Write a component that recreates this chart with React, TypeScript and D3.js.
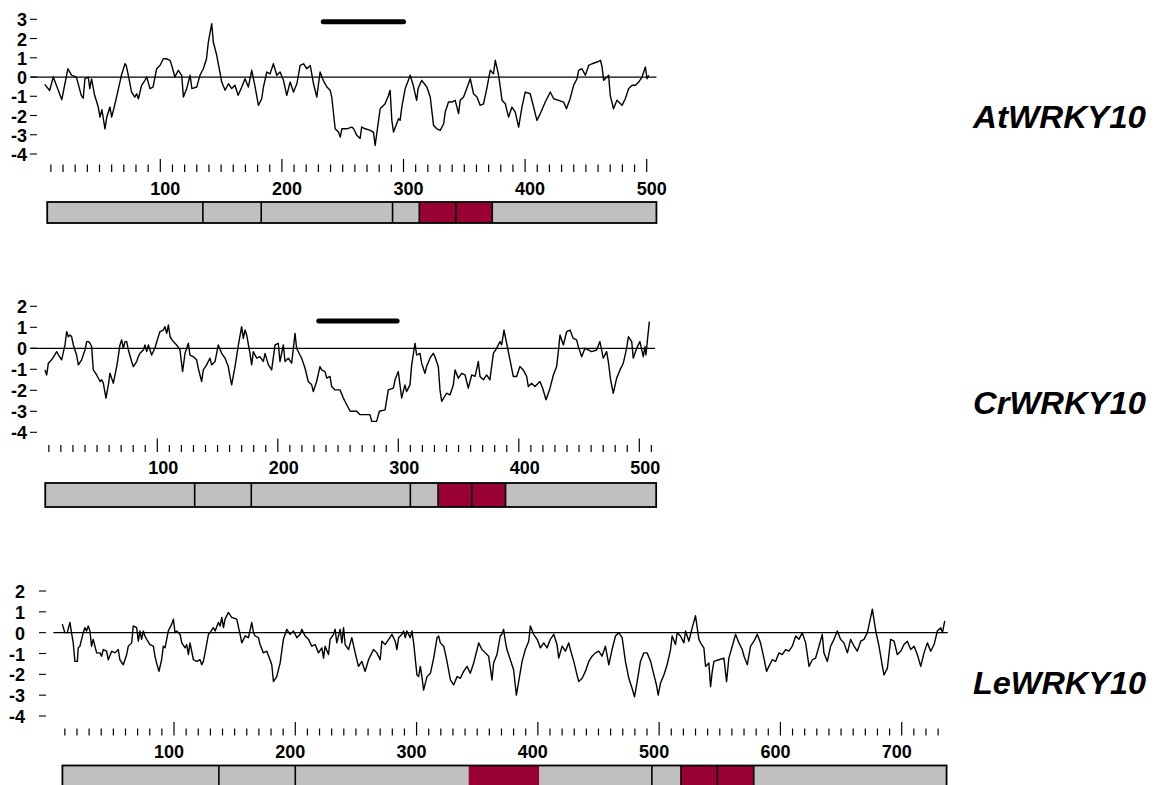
import React from "react";
import * as d3 from "d3";

type Pt = [number, number];

// hydropathy profiles: [residue, score]
const atHydro: Pt[] = [
  [5,-0.38],[9,-0.7],[12,0],[19,-1.18],[24,0.43],[27,0.1],[31,0],[35,-0.95],[36.6,-1.1],[38,-0.1],[40.8,0],[42,-0.6],[43.5,-0.1],[46,-0.95],[49,-1.56],[50.4,-2.08],[52,-1.7],[54.5,-2.69],[56,-2.08],[58.6,-1.56],[60,-2.08],[62.7,-1.4],[64,-1.04],[66.8,-0.26],[68,0.09],[71,0.69],[72,0.6],[73.7,0.09],[76.4,-0.78],[79,-1.04],[80.5,-0.87],[82,-1.13],[84.6,-0.43],[87.4,-0.17],[88.8,0],[90,-0.26],[91.5,-0.6],[94,-0.52],[97,0.43],[99.7,0.6],[102.5,0.95],[105,0.95],[108,0.87],[109.4,0.6],[112,0],[114.8,0.35],[117.6,0.09],[119,-1.04],[121.7,-0.6],[124.5,0.09],[126,-0.6],[130,-0.52],[132.6,0.09],[135.4,0.43],[138,0.95],[139.5,1.82],[142.3,2.77],[143.6,1.82],[146.4,1.13],[149,0.26],[150.5,-0.26],[153.3,-0.69],[156,-0.35],[158.7,-0.6],[161.4,-0.43],[164,-0.95],[167,-0.52],[169.7,-0.09],[172.4,-0.52],[175.2,0.35],[178,-0.52],[180.7,-1.47],[183.4,-1.13],[184.8,-0.52],[187.6,0.26],[190.3,0.17],[193,0.69],[195.8,0.09],[198.5,0.26],[201.3,-0.17],[204,-0.95],[206.8,-0.26],[209.5,-0.78],[212.3,-0.35],[215,0.6],[217.8,0.69],[220.5,0.43],[223.3,0.6],[226,-0.35],[228.7,-1.04],[231.4,0.26],[234,-0.17],[237,-0.52],[239.7,-0.69],[241,-1.04],[243.8,-2.69],[246.5,-2.86],[248,-3.12],[249.3,-2.69],[253.4,-2.69],[257.5,-2.6],[259,-2.69],[261.6,-3.03],[264.3,-3.2],[265.6,-2.6],[268.5,-2.69],[272.6,-2.77],[275.3,-2.86],[276.7,-3.55],[279.5,-2.25],[280.8,-1.65],[284.9,-1.39],[287.7,-0.95],[289,-0.69],[290.4,-2.25],[291.8,-2.86],[295.9,-2.17],[297.2,-2.25],[298.6,-1.56],[301.4,-0.6],[304,-0.17],[305.5,0.09],[308,-0.43],[310.8,-1.21],[312,-0.6],[315,-0.17],[319.2,-0.52],[322,-1.04],[324.7,-2.51],[327.4,-2.69],[330.2,-2.77],[333,-2.43],[334.3,-1.82],[337,-1.3],[339.8,-1.3],[342.5,-1.21],[345.3,-1.9],[346.6,-1.21],[349.4,-1.04],[352,-0.6],[354.9,-0.09],[357.6,-0.87],[360.4,-1.04],[363,-1.47],[365.8,-1.39],[368.5,-0.6],[371.3,0.35],[374,0.17],[375.5,0.87],[378,0.17],[379.6,-0.52],[381,-1.21],[383.7,-1.39],[386.4,-2.08],[389.2,-1.56],[391.9,-1.82],[394.7,-2.6],[397.4,-1.56],[400.1,-0.78],[404.2,-0.87],[407,-1.56],[409.7,-2.25],[412.5,-1.9],[416.6,-1.3],[420.7,-0.78],[423.5,-1.13],[427.6,-1.21],[431.7,-1.3],[434,-1.65],[437,-1.13],[439.9,-0.43],[442.7,-0.09],[444,0.35],[446.8,0.43],[449.5,0.09],[452.3,0.6],[455,0.69],[459.2,0.78],[462,0.87],[463.3,0.52],[464.6,-0.17],[467.4,0],[468.7,0.09],[470,-0.95],[472.7,-1.65],[475.5,-1.21],[479.7,-1.47],[482.4,-1.13],[485.2,-0.6],[488,-0.43],[490.7,-0.43],[493.4,-0.26],[496.2,0],[498.9,0.52],[500.3,-0.09],[501.7,0.09],
];

const crHydro: Pt[] = [
  [6.8,-1.03],[8.2,-1.27],[9.6,-0.71],[12.3,-0.55],[14,-0.4],[16.5,-0.16],[18,-0.32],[20.6,-0.55],[23.4,0.16],[24.8,0.79],[26.2,0.55],[27.6,0.63],[28.9,0.55],[30.3,0.16],[33,-0.32],[34.5,-0.79],[37.2,-0.55],[40,-0.08],[41.4,0.32],[42.8,0.32],[44.2,0.24],[45.5,0.08],[46.9,-1.03],[49.7,-1.27],[52.5,-1.58],[53.8,-1.5],[55.2,-1.66],[57.4,-2.37],[59.4,-1.74],[60.7,-1.19],[62.1,-1.42],[63.5,-1.66],[66.3,-0.87],[67.6,-0.4],[69,0.16],[70.4,0.4],[71.8,0],[73.2,0.32],[74.6,0.32],[76,-0.08],[78.7,-0.63],[80.1,-0.87],[82.9,-0.63],[84.2,-0.4],[85.6,-0.24],[88.4,-0.08],[89.8,0.16],[91.2,-0.16],[92.6,0.16],[95.3,-0.32],[98,0],[100.8,0.55],[102.2,0.79],[105,0.87],[106.4,1.03],[107.8,0.71],[109.2,1.11],[110.6,0.55],[113.3,0.32],[116,0.16],[118.8,-0.08],[121,-1.11],[123,-0.24],[125.8,0.24],[127.1,-0.32],[129.9,-0.4],[132.6,-0.55],[134,-0.95],[136.8,-1.58],[138.2,-1.03],[140.9,-0.79],[143.7,-0.47],[145.1,-0.79],[147.9,-0.63],[150.6,0.16],[153.4,-0.24],[156.2,-0.47],[158.9,-0.87],[160.3,-1.34],[161.7,-1.74],[164.5,-0.87],[167.3,0.16],[170,1.03],[171.4,0.47],[172.8,0.87],[174.2,0.63],[176.9,-0.24],[178.3,-0.79],[179.7,-0.16],[182.5,-0.47],[185.2,-0.4],[188,-0.63],[189.4,-0.24],[192.2,-0.79],[194.9,-1.03],[197.7,0.16],[200.4,0.24],[201.8,-0.63],[204.6,0.16],[206,-0.63],[208.7,-0.47],[211.5,-0.71],[214.3,0.71],[215.6,0],[218.4,-0.32],[219.8,-0.47],[222.6,-0.95],[225.3,-1.58],[228.1,-1.74],[229.5,-2.06],[232.2,-1.58],[235,-0.87],[236.4,-1.03],[239.2,-1.11],[240.6,-1.42],[243.3,-1.34],[244.7,-1.82],[247.5,-1.98],[251.6,-1.98],[254.4,-2.37],[257.2,-2.69],[260,-3.0],[265.5,-3.0],[268.2,-3.16],[276.5,-3.16],[277.9,-3.48],[282,-3.48],[284.3,-3.0],[289,-2.93],[291.7,-1.98],[295.9,-1.9],[297.3,-1.5],[300,-1.11],[301.4,-1.74],[302.8,-2.37],[305.5,-1.74],[306.9,-2.06],[309.7,-1.74],[311.1,-0.79],[313.9,0.24],[315.2,-0.32],[318,-0.24],[319.4,-0.71],[322.1,-1.19],[323.5,-0.87],[326.3,-0.47],[329,-0.24],[330.4,-0.4],[333.2,-0.87],[334.6,-1.98],[336,-2.53],[340.1,-2.14],[342.9,-2.22],[345.7,-1.74],[347.1,-1.03],[349.8,-1.42],[352.6,-1.19],[355.4,-1.27],[358.1,-1.9],[360.9,-1.27],[363.7,-1.34],[366.4,-0.63],[367.8,-1.34],[370.6,-1.5],[373.3,-1.27],[376,-1.5],[378.9,-0.24],[381.6,0],[384.4,0.32],[385.8,0.16],[387.7,0.87],[389.9,0.24],[392.7,-0.55],[395.4,-1.34],[398.2,-1.34],[400.9,-0.87],[403.7,-1.03],[406.5,-1.34],[407.9,-1.82],[410.6,-1.66],[413.4,-1.82],[417.6,-1.58],[419.8,-1.9],[422.6,-2.45],[425.9,-1.9],[428.7,-1.27],[431.4,-0.87],[432.8,-0.16],[434.2,0.63],[437,0.16],[439.7,0.79],[442.5,0.87],[445.2,0.47],[448,0.4],[449.4,0.08],[452.2,-0.4],[454.9,0],[457.7,-0.08],[460.4,-0.16],[464.6,-0.08],[467.3,0.32],[470.1,-0.47],[472.9,-0.16],[474.3,-0.63],[476.2,-1.5],[478.4,-2.14],[481.2,-1.42],[484,-1.03],[486.7,-0.71],[489.5,0],[490.9,0.55],[493.7,0.32],[495,-0.47],[497.8,0],[500.5,0.32],[503.3,-0.4],[504.7,0.08],[505.5,-0.32],[508.3,1.27],
];

const leHydro: Pt[] = [
  [7.9,0.41],[10,0],[12,0],[14.2,0.49],[15.5,0],[16.9,-0.49],[18.3,-1.38],[20.3,-1.38],[21,-0.73],[22.4,-0.65],[23.8,-0.32],[25.2,0],[26.5,0.24],[27.9,0.08],[29.3,0.32],[30.7,0.08],[32,-0.65],[33.4,-0.32],[36.2,-0.97],[39,-0.97],[40.3,-1.13],[41.7,-0.81],[44.4,-0.89],[45.8,-1.3],[48.6,-0.89],[51.3,-0.97],[54,-0.81],[55.4,-1.3],[58.2,-1.54],[61,-1.05],[62.3,-0.65],[65.1,-0.49],[66.4,0.32],[69.2,0.24],[70.6,-0.41],[71.9,0.08],[73.3,-0.32],[74.7,0.08],[76,-0.16],[77.5,-0.32],[80.2,-0.57],[83,-0.65],[84.3,-1.13],[85.7,-1.46],[87.6,-1.86],[89.8,-1.3],[91.2,-0.65],[92.6,-0.73],[95.3,0.08],[98.1,0.41],[99.5,0.65],[100.8,0],[102.2,0.08],[105,-0.08],[106.4,-0.49],[109.1,-0.73],[110.5,-0.57],[111.9,-1.05],[113.2,-0.49],[116,-1.3],[118.7,-1.38],[121.5,-1.3],[122.9,-1.54],[124.2,-1.38],[125.6,-0.97],[128.4,-0.08],[129.7,0],[132.5,0.24],[133.9,0.08],[136.6,0.49],[138,0.32],[139.4,0.73],[140.8,0.24],[142.1,0.65],[144.8,0.97],[147.6,0.73],[151.7,0.65],[154.5,-0.08],[155.9,-0.49],[158.6,-0.16],[161.4,-0.24],[164.1,0.49],[165.5,0],[166.9,-0.16],[169.6,-0.24],[171,-0.57],[173.7,-0.97],[176.5,-0.89],[179.2,-1.3],[180.6,-1.54],[182,-2.35],[184.7,-2.11],[187.5,-1.46],[190.2,-0.32],[193,0.16],[195.7,-0.08],[198.5,0.08],[201.3,-0.24],[204,-0.08],[205.4,0.16],[208.1,-0.16],[210.9,-0.32],[213.6,-0.65],[216.4,-0.57],[219.1,-0.97],[221.9,-0.73],[223.3,-1.22],[224.6,-0.65],[227.4,-1.05],[228.7,-0.32],[231.5,-0.08],[232.9,0.16],[234.2,-0.49],[237,0.16],[238.4,-0.49],[239.8,0.24],[241.1,-0.57],[243.9,-0.81],[246.6,-0.24],[249.4,-0.97],[252.1,-1.62],[254.9,-1.38],[257.6,-1.86],[260.4,-1.3],[263.1,-0.97],[264.5,-0.81],[267.3,-0.97],[270,-1.3],[271.4,-0.41],[274.1,-0.57],[277,-0.32],[279.7,-0.08],[282.4,-0.41],[283.8,-0.81],[285.2,-0.24],[287.9,-0.08],[289.3,0.08],[290.7,-0.24],[292,0.08],[294.8,-0.24],[296.2,0.08],[297.6,-0.49],[300.3,-2.03],[301.7,-2.11],[303.1,-1.62],[304.4,-2.11],[305.8,-2.76],[308.6,-2.11],[311.4,-1.95],[314.1,-1.22],[316.9,-0.24],[318.2,-0.16],[319.6,-0.49],[322.4,-0.65],[325.1,-1.38],[327.9,-2.27],[330.6,-2.51],[333.4,-2.11],[336.1,-2.19],[338.8,-1.86],[341.6,-1.62],[344.3,-1.95],[347.1,-1.46],[349.9,-0.81],[351.2,-0.49],[353.9,-0.81],[356.7,-0.97],[359.4,-1.13],[362.2,-2.27],[363.5,-1.46],[366.3,-1.05],[369,-0.16],[370.4,-0.08],[371.8,0.16],[373.2,-0.41],[374.5,-0.81],[377.3,-1.3],[380,-1.78],[382.3,-3.0],[384.2,-2.35],[387,-1.38],[389.7,-0.81],[392.5,-0.41],[393.8,0.32],[396.6,-0.08],[399.4,-0.32],[402.1,-0.73],[404.8,-0.49],[407.6,-0.73],[410.3,-0.32],[413.1,-0.08],[415.8,-0.57],[417.2,-1.22],[420,-0.65],[422.7,-0.89],[425.5,-0.49],[426.8,-0.81],[429.6,-1.38],[432.3,-2.03],[433.7,-2.35],[436.5,-2.19],[439.2,-1.86],[442,-1.38],[444.7,-1.13],[447.5,-0.97],[450.2,-0.89],[452.9,-1.13],[455.7,-0.65],[458.5,-1.54],[461.2,-0.81],[464,-0.16],[466.7,0],[469.5,-0.24],[472.2,-1.38],[475,-2.19],[477.7,-2.67],[479.7,-3.08],[481.9,-2.35],[484.6,-1.38],[487.4,-0.97],[490.1,-0.97],[493,-1.38],[495.7,-2.03],[497.8,-2.51],[499.2,-3.0],[501.1,-2.43],[503.9,-2.03],[506.6,-1.54],[509.4,-0.81],[510.7,-0.16],[513.5,-0.57],[514.9,0],[517.6,-0.16],[520.4,-0.49],[521.8,0.08],[524.5,-0.41],[527.3,0.24],[530,0.81],[532.8,-0.32],[534.1,-0.49],[536.9,-0.73],[538.3,-1.62],[541,-1.46],[542.4,-2.59],[543.8,-1.86],[545.2,-1.38],[549.3,-1.3],[553.4,-1.22],[555.6,-2.35],[557.5,-1.22],[560.3,-0.65],[563,-0.08],[565.8,-0.49],[568.5,-0.81],[570,-1.13],[572.7,-1.54],[575.4,-0.65],[578.2,-0.41],[580.9,-0.08],[583.6,-0.49],[586.4,-1.22],[588.6,-1.86],[590.5,-1.62],[593.3,-1.3],[596,-1.38],[598.8,-0.97],[601.5,-1.05],[604.3,-0.81],[607,-0.89],[609.8,-0.65],[612.6,-0.16],[615.3,-0.32],[618,0],[620.8,-0.49],[623.6,-1.62],[626.3,-1.3],[629,-1.22],[631.8,-0.65],[634.5,-0.08],[635.9,-0.97],[638.7,-1.38],[641.4,-0.65],[644.2,-0.32],[646.9,0.08],[649.6,-0.32],[652.4,-0.49],[655.2,-0.97],[657.9,-0.32],[660.7,-0.65],[663.4,-0.89],[666.2,-0.41],[668.9,-0.32],[671.7,0],[674.4,0.73],[675.8,1.13],[678.6,0.08],[681.3,-0.65],[684.1,-1.62],[685.4,-2.03],[688.2,-1.7],[690.9,-0.32],[693.7,-0.41],[696.4,-1.05],[699.2,-0.89],[701.9,-0.57],[704.7,-0.41],[707.4,-0.81],[710.2,-0.65],[712.9,-1.05],[715.7,-1.62],[718.4,-0.97],[721.2,-0.49],[723.9,-0.89],[726.7,-0.57],[729.4,0.08],[732.2,0.24],[733.6,0],[735.5,0.57],
];

const proteinNames = ["AtWRKY10", "CrWRKY10", "LeWRKY10"];

const atYTicks = [3, 2, 1, 0, -1, -2, -3, -4];
const crYTicks = [2, 1, 0, -1, -2, -3, -4];
const leYTicks = [2, 1, 0, -1, -2, -3, -4];

const atXLabels = [100, 200, 300, 400, 500];
const crXLabels = [100, 200, 300, 400, 500];
const leXLabels = [100, 200, 300, 400, 500, 600, 700];

// protein bar: extent, black dividers and red (WRKY) blocks, in residues
const atSpan: Pt = [7, 508];
const atCuts = [135, 183, 291, 313, 343, 373];
const atRed: Pt[] = [[313, 343], [343, 373]];
const atMarked: Pt = [234, 300];

const crSpan: Pt = [7, 514];
const crCuts = [131, 178, 310, 333, 361, 389];
const crRed: Pt[] = [[333, 361], [361, 389]];
const crMarked: Pt = [234, 299];

const leSpan: Pt = [8, 737];
const leCuts = [137, 200, 494, 518, 548, 578];
const leRed: Pt[] = [[343, 401], [518, 548], [548, 578]];

const FONT = "'Liberation Sans', Arial, Helvetica, sans-serif";
const GREY = "#c0c0c0";
const RED = "#990033";

function Panel({ cfg }) {
  const x = d3.scaleLinear().domain(cfg.xDomain).range(cfg.xRange);
  const y = d3
    .scaleLinear()
    .domain([cfg.yTicks[0], cfg.yTicks[cfg.yTicks.length - 1]])
    .range(cfg.yRange);
  const line = d3
    .line<Pt>()
    .x((d) => x(d[0]))
    .y((d) => y(d[1]));
  const ticks = d3.range(10, cfg.tickMax + 1, 10);

  return (
    <g>
      {/* y axis */}
      {cfg.yTicks.map((t) => (
        <g key={"y" + t}>
          <line x1={cfg.yTickX[0]} x2={cfg.yTickX[1]} y1={y(t)} y2={y(t)} stroke="#000" strokeWidth={1.1} />
          <text x={cfg.yLabelX} y={y(t) + 7} textAnchor="end" fontFamily={FONT} fontWeight="bold" fontSize={18}>
            {t}
          </text>
        </g>
      ))}

      {/* zero line */}
      <line x1={x(cfg.zero[0])} x2={x(cfg.zero[1])} y1={y(0)} y2={y(0)} stroke="#000" strokeWidth={1.3} />

      <path d={line(cfg.data)} fill="none" stroke="#000" strokeWidth={1.4} strokeLinejoin="round" />

      {cfg.marked && (
        <line
          x1={x(cfg.marked[0])}
          x2={x(cfg.marked[1])}
          y1={cfg.markedY}
          y2={cfg.markedY}
          stroke="#000"
          strokeWidth={5}
          strokeLinecap="round"
        />
      )}

      {/* x ticks */}
      {ticks.map((t) => (
        <line
          key={"t" + t}
          x1={x(t)}
          x2={x(t)}
          y1={t % 100 === 0 ? cfg.tickY[0] : cfg.tickY[1]}
          y2={cfg.tickY[2]}
          stroke="#000"
          strokeWidth={1.2}
        />
      ))}
      {cfg.xLabels.map((t) => (
        <text
          key={"l" + t}
          x={x(t) + cfg.labelDx}
          y={cfg.labelY}
          textAnchor="middle"
          fontFamily={FONT}
          fontWeight="bold"
          fontSize={18}
        >
          {t}
        </text>
      ))}

      {/* protein bar */}
      <rect
        x={x(cfg.span[0])}
        y={cfg.bar[0]}
        width={x(cfg.span[1]) - x(cfg.span[0])}
        height={cfg.bar[1] - cfg.bar[0]}
        fill={GREY}
      />
      {cfg.reds.map((r, i) => (
        <rect key={"r" + i} x={x(r[0])} y={cfg.bar[0]} width={x(r[1]) - x(r[0])} height={cfg.bar[1] - cfg.bar[0]} fill={RED} />
      ))}
      {cfg.cuts.map((c) => (
        <line key={"c" + c} x1={x(c)} x2={x(c)} y1={cfg.bar[0]} y2={cfg.bar[1]} stroke="#000" strokeWidth={1.6} />
      ))}
      <rect
        x={x(cfg.span[0])}
        y={cfg.bar[0]}
        width={x(cfg.span[1]) - x(cfg.span[0])}
        height={cfg.bar[1] - cfg.bar[0]}
        fill="none"
        stroke="#000"
        strokeWidth={1.8}
      />

      <text
        x={973}
        y={cfg.nameY}
        fontFamily={FONT}
        fontWeight="bold"
        fontStyle="italic"
        fontSize={31}
        textLength={173}
        lengthAdjust="spacingAndGlyphs"
      >
        {cfg.name}
      </text>
    </g>
  );
}

export default function App() {
  const panels = [
    {
      name: proteinNames[0],
      data: atHydro,
      yTicks: atYTicks,
      xLabels: atXLabels,
      xDomain: [100, 500],
      xRange: [160.3, 646.7],
      yRange: [19.3, 154],
      yTickX: [30, 37],
      yLabelX: 27,
      zero: [-6.5, 508],
      tickMax: 500,
      tickY: [159, 164.5, 172],
      labelY: 195,
      labelDx: 5,
      span: atSpan,
      cuts: atCuts,
      reds: atRed,
      bar: [202, 223],
      marked: atMarked,
      markedY: 21.7,
      nameY: 128.3,
    },
    {
      name: proteinNames[1],
      data: crHydro,
      yTicks: crYTicks,
      xLabels: crXLabels,
      xDomain: [100, 500],
      xRange: [157.3, 639.3],
      yRange: [306.3, 432.3],
      yTickX: [30, 37],
      yLabelX: 27,
      zero: [-5, 513],
      tickMax: 510,
      tickY: [438.5, 445, 452],
      labelY: 473.5,
      labelDx: 6,
      span: crSpan,
      cuts: crCuts,
      reds: crRed,
      bar: [483, 507],
      marked: crMarked,
      markedY: 321,
      nameY: 413.5,
    },
    {
      name: proteinNames[2],
      data: leHydro,
      yTicks: leYTicks,
      xLabels: leXLabels,
      xDomain: [100, 700],
      xRange: [174, 901.7],
      yRange: [591, 716],
      yTickX: [39, 46],
      yLabelX: 25,
      zero: [0.5, 738],
      tickMax: 730,
      tickY: [722, 728.5, 735.5],
      labelY: 758,
      labelDx: -5,
      span: leSpan,
      cuts: leCuts,
      reds: leRed,
      bar: [765.5, 792],
      marked: null,
      markedY: 0,
      nameY: 694,
    },
  ];

  return (
    <svg
      width={1160}
      height={785}
      style={{ position: "absolute", left: 0, top: 0, background: "#fff" }}
    >
      {panels.map((p) => (
        <Panel key={p.name} cfg={p} />
      ))}
    </svg>
  );
}
